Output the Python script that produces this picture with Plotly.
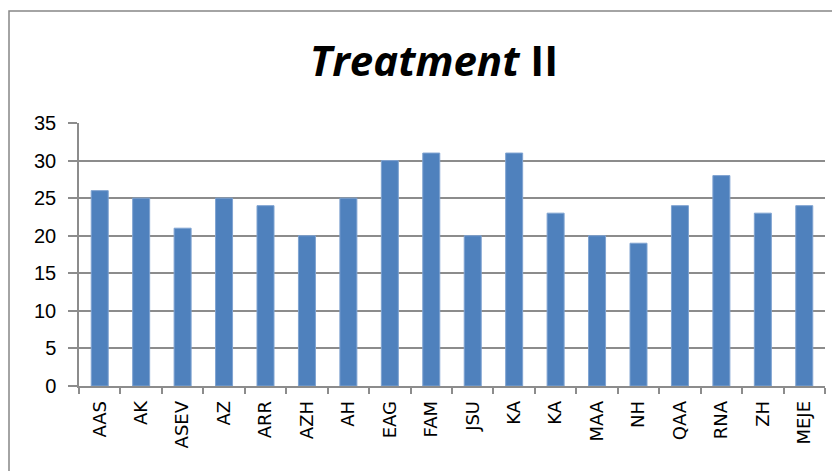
import plotly.graph_objects as go

categories = ["AAS", "AK", "ASEV", "AZ", "ARR", "AZH", "AH", "EAG", "FAM", "JSU",
              "KA", "KA", "MAA", "NH", "QAA", "RNA", "ZH", "MEJE"]
values = [26, 25, 21, 25, 24, 20, 25, 30, 31, 20, 31, 23, 20, 19, 24, 28, 23, 24]
y_ticks = [0, 5, 10, 15, 20, 25, 30, 35]

positions = list(range(len(categories)))
# page has an 8px body margin; compensate
W, H = 832, 463
ml, mr, mt, mb = 71, 15, 115, 85
pw, ph = W - ml - mr, H - mt - mb

fig = go.Figure(go.Bar(
    x=positions, y=values,
    marker=dict(color="#4f81bd", line=dict(color="#7fa3d1", width=1)),
    width=0.41,
))

grid = "#8c8c8c"
fig.update_layout(
    width=W, height=H,
    margin=dict(l=ml, r=mr, t=mt, b=mb, autoexpand=False),
    paper_bgcolor="white", plot_bgcolor="white",
    showlegend=False,
    title=dict(text="<b><i>Treatment</i> II</b>", x=(434 - 8) / W, xanchor="center",
               y=1 - (61 - 8) / H, yanchor="middle",
               font=dict(family="Open Sans", size=42, color="black")),
    xaxis=dict(
        range=[-0.5, len(categories) - 0.5],
        tickmode="array", tickvals=positions, ticktext=categories,
        tickangle=-90, ticks="", showgrid=False,
        tickfont=dict(family="DejaVu Sans", size=18, color="black"),
        ticklabelstandoff=6,
        showline=True, linecolor=grid, linewidth=1.5,
        minor=dict(tickvals=[p - 0.5 for p in positions] + [len(categories) - 0.5],
                   ticks="outside", ticklen=6, tickcolor=grid, tickwidth=1.5),
    ),
    yaxis=dict(
        range=[0, 35], tickmode="array", tickvals=y_ticks,
        showgrid=True, gridcolor=grid, gridwidth=1.5,
        ticks="outside", ticklen=9, tickcolor=grid, tickwidth=1.5,
        showline=True, linecolor=grid, linewidth=1.5,
        zeroline=False,
        ticklabelstandoff=8,
        tickfont=dict(family="Liberation Sans", size=20, color="black"),
    ),
    shapes=[dict(type="rect", xref="paper", yref="paper",
                 x0=(1 - ml) / pw, x1=(845 - ml) / pw,
                 y0=-0.4, y1=(H - mb - (11 - 8)) / ph,
                 line=dict(color="#868686", width=1.5), layer="below")],
)

fig.write_html("out.html")
